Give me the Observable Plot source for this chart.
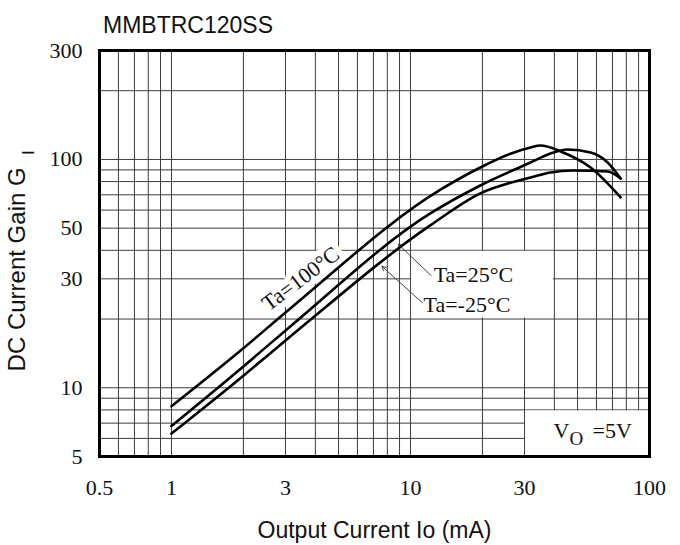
<!DOCTYPE html>
<html><head><meta charset="utf-8">
<script src="https://cdn.jsdelivr.net/npm/d3@7"></script>
<script src="https://cdn.jsdelivr.net/npm/@observablehq/plot@0.6"></script>
<style>
body{margin:0;background:#fff;width:680px;}
#title{height:40px;box-sizing:border-box;padding:14px 0 0 103px;font:23px "Liberation Sans",Arial,sans-serif;line-height:23px;color:#111;}
</style></head><body>
<div id="title">MMBTRC120SS</div>
<div id="chart"></div>
<script>
// Axis ticks and grid
const xTicks = [0.5, 1, 3, 10, 30, 100];
const yTicks = [5, 10, 30, 50, 100, 300];
const xGrid = [0.6, 0.7, 0.8, 0.9, 1, 2, 3, 4, 5, 6, 7, 8, 9, 10, 20, 30, 40, 50, 60, 70, 80, 90];
const yGrid = [6, 7, 8, 9, 10, 20, 30, 40, 50, 60, 70, 80, 90, 100, 200];

// Series: Output current Io (mA) vs DC current gain GI
const io100 = [1, 2, 3.15, 13.4, 19.6, 26.2, 31.8, 35, 42.5, 56.7, 75.7];
const gain100 = [8.3, 14.9, 22.3, 73.9, 92.2, 106, 112.8, 115.1, 108.4, 92.2, 68.2];
const io25 = [1, 2, 3.15, 12.1, 19.6, 31.8, 38.5, 45.4, 56.7, 66.8, 75.7];
const gain25 = [6.8, 12.4, 18.6, 58.0, 76.9, 97.0, 106.2, 110.6, 107.2, 97.0, 82.5];
const ioM25 = [1, 2, 3.15, 12.1, 19.6, 31.8, 38.5, 48, 66.8, 75.7];
const gainM25 = [6.3, 11.3, 16.8, 51.4, 71.0, 83.4, 87.7, 89.5, 88.6, 82.5];

// Annotations (data coordinates)
const labelText = ["Ta=100°C", "Ta=25°C", "Ta=-25°C"];
const labelIo = [3.47, 12.5, 11.34];
const labelGain = [30, 31.05, 22.95];
const arrowFromIo = [12.2, 11.2];
const arrowFromGain = [31.0, 23.6];
const arrowToIo = [8.9, 7.6];
const arrowToGain = [42.5, 34];
const boxIo1 = [10, 30];
const boxIo2 = [40, 100];
const boxGain1 = [20, 5];
const boxGain2 = [40, 8];
const voAnchor = {io: 39.7, gain: 6.5};
const yTitleGain = 33;
const ySubGain = 107;

const serif = '"Liberation Serif", "Times New Roman", serif';
const sans = '"Liberation Sans", Arial, sans-serif';
const ink = "#111";
const gridInk = "#3c3c3c";

const toPts = (xs, ys) => xs.map((x, i) => ({io: x, gain: ys[i]}));
const series = [
  ...toPts(io100, gain100).map(d => ({...d, s: "100"})),
  ...toPts(io25, gain25).map(d => ({...d, s: "25"})),
  ...toPts(ioM25, gainM25).map(d => ({...d, s: "-25"}))
];
const boxes = boxIo1.map((v, i) => ({x1: v, x2: boxIo2[i], y1: boxGain1[i], y2: boxGain2[i]}));
const leaders = arrowFromIo.map((v, i) => ({x1: v, y1: arrowFromGain[i], x2: arrowToIo[i], y2: arrowToGain[i]}));
const labels = labelText.map((t, i) => ({t, io: labelIo[i], gain: labelGain[i]}));

const chart = Plot.plot({
  width: 680,
  height: 505,
  marginTop: 10,
  marginBottom: 89,
  marginLeft: 99,
  marginRight: 31,
  style: {fontFamily: serif, fontSize: "22px", background: "#fff", color: ink},
  x: {type: "log", domain: [0.5, 100], axis: null},
  y: {type: "log", domain: [5, 300]},
  marks: [
    Plot.ruleX(xGrid, {stroke: gridInk, strokeWidth: 1}),
    Plot.ruleY(yGrid, {stroke: gridInk, strokeWidth: 1}),
    Plot.rect(boxes, {x1: "x1", x2: "x2", y1: "y1", y2: "y2", fill: "white", inset: 1}),
    Plot.text([labels[0]], {x: "io", y: "gain", text: "t", rotate: -37, fontFamily: serif, fontSize: 22, fill: ink, stroke: "white", strokeWidth: 12}),
    Plot.text(labels.slice(1), {x: "io", y: "gain", text: "t", textAnchor: "start", fontFamily: serif, fontSize: 22, fill: ink}),
    Plot.arrow(leaders, {x1: "x1", y1: "y1", x2: "x2", y2: "y2", stroke: "#444", strokeWidth: 1, headLength: 7}),
    Plot.line(series, {x: "io", y: "gain", z: "s", stroke: "#000", strokeWidth: 2.6, curve: "monotone-x"}),
    Plot.frame({stroke: "#000", strokeWidth: 3}),
    Plot.text(xTicks, {x: d => d, frameAnchor: "bottom", lineAnchor: "middle", textAnchor: "middle", dy: 31, text: d => String(d), fontFamily: serif, fontSize: 22, fill: ink}),
    Plot.axisY(yTicks, {tickSize: 0, tickPadding: 17, tickFormat: d => String(d), label: null, fontFamily: serif, fontSize: 22, fill: ink}),
    Plot.text(["Output Current Io (mA)"], {frameAnchor: "bottom", lineAnchor: "middle", textAnchor: "middle", dy: 74, fontFamily: sans, fontSize: 23, fill: ink}),
    Plot.text(["DC Current Gain G"], {frameAnchor: "left", y: () => yTitleGain, dx: -82, rotate: -90, textAnchor: "middle", lineAnchor: "middle", fontFamily: sans, fontSize: 24, fill: ink}),
    Plot.text(["I"], {frameAnchor: "left", y: () => ySubGain, dx: -71, rotate: -90, textAnchor: "middle", lineAnchor: "middle", fontFamily: sans, fontSize: 17, fill: ink}),
    Plot.text([voAnchor], {x: "io", y: "gain", text: () => "V", textAnchor: "start", fontFamily: serif, fontSize: 22, fill: ink}),
    Plot.text([voAnchor], {x: "io", y: "gain", text: () => "O", textAnchor: "start", dx: 16, dy: 8, fontFamily: serif, fontSize: 19, fill: ink}),
    Plot.text([voAnchor], {x: "io", y: "gain", text: () => "=5V", textAnchor: "start", dx: 39, fontFamily: serif, fontSize: 22, fill: ink})
  ]
});
document.getElementById("chart").appendChild(chart);
</script>
</body></html>
